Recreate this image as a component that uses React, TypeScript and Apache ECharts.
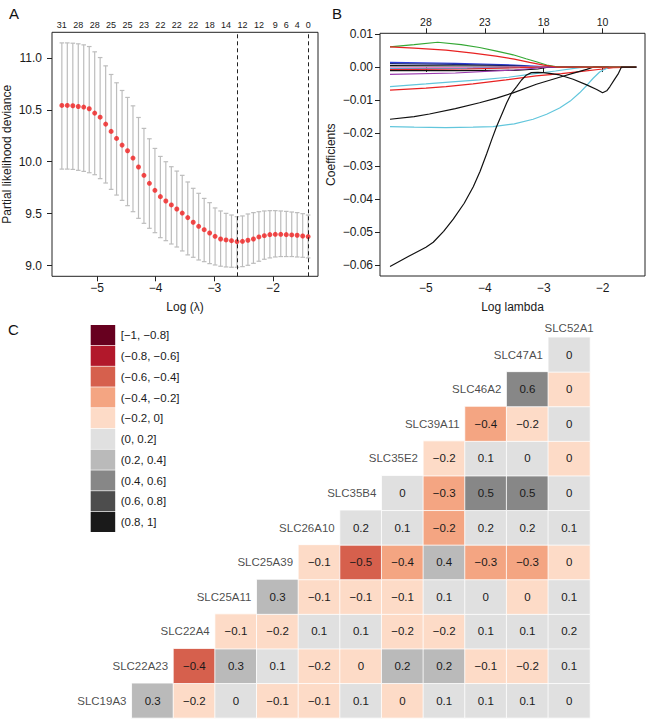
import React, { useEffect, useRef } from 'react';
import * as echarts from 'echarts';

const FONT = '"Liberation Sans", Arial, Helvetica, sans-serif';
const TXT = '#1a1a1a';
const minus = (s: string) => s.replace(/-/g, '\u2212');

// ---------------- Panel A: cross-validation curve ----------------
const logLambda = [
  -5.600, -5.507, -5.413, -5.320, -5.227, -5.133, -5.040, -4.947, -4.853, -4.760,
  -4.667, -4.573, -4.480, -4.387, -4.293, -4.200, -4.107, -4.013, -3.920, -3.827,
  -3.733, -3.640, -3.547, -3.453, -3.360, -3.267, -3.173, -3.080, -2.987, -2.893,
  -2.800, -2.707, -2.613, -2.520, -2.427, -2.333, -2.240, -2.147, -2.053, -1.960,
  -1.867, -1.773, -1.680, -1.587, -1.493, -1.400,
];
const cvMean = [
  10.542, 10.542, 10.539, 10.532, 10.526, 10.510, 10.468, 10.429, 10.362, 10.292,
  10.224, 10.160, 10.106, 10.035, 9.949, 9.869, 9.792, 9.725, 9.664, 9.622,
  9.584, 9.545, 9.506, 9.462, 9.417, 9.378, 9.346, 9.314, 9.282, 9.256,
  9.247, 9.240, 9.231, 9.234, 9.244, 9.256, 9.276, 9.288, 9.298, 9.301,
  9.301, 9.298, 9.295, 9.292, 9.285, 9.279,
];
const cvUpper = [
  11.144, 11.144, 11.141, 11.135, 11.125, 11.109, 11.058, 11.003, 10.923, 10.840,
  10.760, 10.686, 10.619, 10.538, 10.426, 10.321, 10.221, 10.128, 10.051, 10.000,
  9.952, 9.910, 9.869, 9.805, 9.744, 9.696, 9.647, 9.606, 9.555, 9.526,
  9.503, 9.487, 9.471, 9.478, 9.497, 9.510, 9.519, 9.526, 9.529, 9.529,
  9.526, 9.522, 9.516, 9.510, 9.500, 9.487,
];
const cvLower = [
  9.929, 9.929, 9.926, 9.917, 9.907, 9.894, 9.875, 9.837, 9.795, 9.734,
  9.679, 9.628, 9.577, 9.519, 9.455, 9.407, 9.359, 9.317, 9.269, 9.240,
  9.208, 9.179, 9.141, 9.103, 9.080, 9.054, 9.038, 9.019, 9.006, 8.994,
  8.987, 8.984, 8.984, 8.990, 9.003, 9.022, 9.042, 9.061, 9.074, 9.083,
  9.087, 9.087, 9.087, 9.083, 9.080, 9.074,
];
const dfTickX = [-5.600, -5.320, -5.040, -4.760, -4.480, -4.200, -3.920, -3.640, -3.360, -3.080, -2.800, -2.520, -2.240, -1.960, -1.773, -1.587, -1.400];
const dfTickLabels = ['31', '28', '28', '25', '25', '23', '22', '22', '22', '18', '14', '12', '12', '9', '6', '4', '0'];
const lambdaMin = -2.613;
const lambda1se = -1.4;
const aXTicks = [-5, -4, -3, -2];
const aYTicks = [9.0, 9.5, 10.0, 10.5, 11.0];

// ---------------- Panel B: coefficient paths ----------------
const bXTicks = [-5, -4, -3, -2];
const bTopLabels = ['28', '23', '18', '10'];
const bYTicks = [-0.06, -0.05, -0.04, -0.03, -0.02, -0.01, 0, 0.01];

const pathGreen = [[-5.61, 0.0061], [-5.2, 0.0068], [-4.8, 0.0075], [-4.4, 0.0068], [-4.09, 0.0059], [-3.8, 0.0048], [-3.52, 0.0037], [-3.3, 0.0025], [-3.125, 0.0016], [-2.95, 0.0006], [-2.8, 0.0001], [-2.7, 0], [-1.43, 0]];
const pathRedTop = [[-5.61, 0.0061], [-5.2, 0.0057], [-4.66, 0.0051], [-4.2, 0.0042], [-3.81, 0.0033], [-3.5, 0.0024], [-3.24, 0.0014], [-3.0, 0.0006], [-2.78, 0], [-1.43, 0]];
const pathBlue = [[-5.61, 0.0014], [-4.5, 0.0011], [-3.5, 0.0006], [-3.0, 0.0001], [-2.9, 0], [-1.43, 0]];
const pathNavy = [[-5.61, 0.0010], [-4.5, 0.0008], [-3.5, 0.0004], [-3.1, 0], [-1.43, 0]];
const pathBlack3 = [[-5.61, 0.0004], [-4.0, 0.0003], [-3.3, 0], [-1.43, 0]];
const pathGrey = [[-5.61, 0.0001], [-4.0, 0.0001], [-3.4, 0], [-1.43, 0]];
const pathPink = [[-5.61, -0.0003], [-4.2, -0.0002], [-3.4, 0], [-1.43, 0]];
const pathSky = [[-5.61, -0.0005], [-4.3, -0.0004], [-3.3, -0.0001], [-3.1, 0], [-1.43, 0]];
const pathRed3 = [[-5.61, -0.0008], [-4.3, -0.0006], [-3.4, -0.0002], [-3.1, 0], [-1.43, 0]];
const pathBlack4 = [[-5.61, -0.0011], [-4.5, -0.0011], [-3.5, -0.0010], [-3.1, -0.0006], [-2.9, 0], [-1.43, 0]];
const pathPurple = [[-5.61, -0.0022], [-4.5, -0.0018], [-3.5, -0.0009], [-3.1, -0.0003], [-2.9, 0], [-1.43, 0]];
const pathCyan1 = [[-5.61, -0.0059], [-5.0, -0.0051], [-4.5, -0.0044], [-4.09, -0.0039], [-3.6, -0.0031], [-3.24, -0.0022], [-2.8, -0.0012], [-2.39, -0.0002], [-2.2, 0], [-1.43, 0]];
const pathRed2 = [[-5.61, -0.0070], [-5.0, -0.0064], [-4.66, -0.0059], [-4.2, -0.0051], [-3.64, -0.0039], [-3.13, -0.0027], [-2.7, -0.0020], [-2.39, -0.0014], [-2.0, -0.0006], [-1.82, -0.0002], [-1.43, 0]];
const pathBlack2 = [[-5.61, -0.0158], [-5.2, -0.0150], [-4.94, -0.0142], [-4.5, -0.0126], [-4.09, -0.0108], [-3.8, -0.0094], [-3.52, -0.0078], [-3.125, -0.0052], [-2.73, -0.0031], [-2.45, -0.0016], [-2.27, -0.0007], [-2.15, 0], [-1.43, 0]];
const pathCyan2 = [[-5.61, -0.0180], [-5.2, -0.0182], [-4.66, -0.0183], [-4.2, -0.0182], [-3.86, -0.0180], [-3.5, -0.0172], [-3.18, -0.0158], [-2.95, -0.0143], [-2.73, -0.0124], [-2.55, -0.0103], [-2.39, -0.0078], [-2.25, -0.0052], [-2.16, -0.0034], [-2.05, -0.0015], [-1.99, -0.0009], [-1.88, 0], [-1.43, 0]];
const pathBlack1 = [[-5.61, -0.0603], [-5.3, -0.0573], [-5.0, -0.0545], [-4.876, -0.0530], [-4.7, -0.0497], [-4.536, -0.0460], [-4.35, -0.0412], [-4.196, -0.0362], [-4.08, -0.0315], [-3.97, -0.0263], [-3.88, -0.0218], [-3.8, -0.0180], [-3.7, -0.0138], [-3.63, -0.0109], [-3.55, -0.0080], [-3.46, -0.0059], [-3.38, -0.0040], [-3.3, -0.0025], [-3.21, -0.0017], [-3.1, -0.0016], [-3.01, -0.0017], [-2.87, -0.0020], [-2.73, -0.0024], [-2.5, -0.0037], [-2.27, -0.0054], [-2.1, -0.0068], [-2.0, -0.0078], [-1.93, -0.0072], [-1.875, -0.0059], [-1.8, -0.0038], [-1.73, -0.0019], [-1.68, 0], [-1.43, 0]];

const pathList = [
  { data: pathBlue, color: '#2B3BD8', tag: '' },
  { data: pathNavy, color: '#1C2A7A', tag: '' },
  { data: pathBlack3, color: '#111111', tag: '' },
  { data: pathGrey, color: '#9A9A9A', tag: '' },
  { data: pathPink, color: '#E060C0', tag: '' },
  { data: pathSky, color: '#58A8E0', tag: '' },
  { data: pathRed3, color: '#E82222', tag: '' },
  { data: pathBlack4, color: '#111111', tag: '20' },
  { data: pathPurple, color: '#9A3AAE', tag: '16' },
  { data: pathCyan1, color: '#62C6DC', tag: '8' },
  { data: pathRed2, color: '#E82222', tag: '20' },
  { data: pathBlack2, color: '#111111', tag: '19' },
  { data: pathCyan2, color: '#62C6DC', tag: '11' },
  { data: pathGreen, color: '#35A835', tag: '' },
  { data: pathRedTop, color: '#E82222', tag: '28' },
  { data: pathBlack1, color: '#111111', tag: '33' },
];

// ---------------- Panel C: correlation heatmap ----------------
const genes = ['SLC19A3', 'SLC22A23', 'SLC22A4', 'SLC25A11', 'SLC25A39', 'SLC26A10', 'SLC35B4', 'SLC35E2', 'SLC39A11', 'SLC46A2', 'SLC47A1', 'SLC52A1'];
const corrSLC19A3 = [0.3, -0.18, 0.02, -0.1, -0.1, 0.1, -0.02, 0.1, 0.1, 0.1, 0.02];
const corrSLC22A23 = [-0.42, 0.3, 0.1, -0.18, -0.02, 0.22, 0.22, -0.1, -0.18, 0.1];
const corrSLC22A4 = [-0.1, -0.18, 0.1, 0.1, -0.18, -0.18, 0.1, 0.1, 0.18];
const corrSLC25A11 = [0.3, -0.1, -0.1, -0.1, 0.1, 0.02, -0.02, 0.1];
const corrSLC25A39 = [-0.1, -0.5, -0.38, 0.38, -0.3, -0.3, -0.02];
const corrSLC26A10 = [0.18, 0.1, -0.22, 0.18, 0.18, 0.1];
const corrSLC35B4 = [0.02, -0.3, 0.5, 0.5, 0.02];
const corrSLC35E2 = [-0.18, 0.1, 0.02, -0.02];
const corrSLC39A11 = [-0.38, -0.18, 0.02];
const corrSLC46A2 = [0.58, -0.02];
const corrSLC47A1 = [0.02];
const corrRows = [corrSLC19A3, corrSLC22A23, corrSLC22A4, corrSLC25A11, corrSLC25A39, corrSLC26A10, corrSLC35B4, corrSLC35E2, corrSLC39A11, corrSLC46A2, corrSLC47A1];

const binLabels = ['[-1, -0.8]', '(-0.8, -0.6]', '(-0.6, -0.4]', '(-0.4, -0.2]', '(-0.2, 0]', '(0, 0.2]', '(0.2, 0.4]', '(0.4, 0.6]', '(0.6, 0.8]', '(0.8, 1]'];
const binLow = [-1, -0.8, -0.6, -0.4, -0.2, 0, 0.2, 0.4, 0.6, 0.8];
const binHigh = [-0.8, -0.6, -0.4, -0.2, 0, 0.2, 0.4, 0.6, 0.8, 1];
const binColors = ['#67001F', '#B2182B', '#D6604D', '#F4A582', '#FDDBC7', '#E0E0E0', '#BABABA', '#878787', '#4D4D4D', '#1A1A1A'];

const fmtCorr = (v: number) => {
  const r = Math.round(v * 10) / 10;
  if (Math.abs(r) < 1e-9) return '0';
  return minus(String(r));
};

const nearestLabel = (xs: number[], labels: string[], v: number) => {
  let best = 0;
  for (let i = 1; i < xs.length; i++) if (Math.abs(xs[i] - v) < Math.abs(xs[best] - v)) best = i;
  return labels[best];
};

export default function App() {
  const ref = useRef<HTMLDivElement>(null);
  useEffect(() => {
    if (!ref.current) return;
    const chart = echarts.init(ref.current, undefined, { renderer: 'svg' });

    const cellLeft = 90.15, cellW = 41.65, cellTop = 302.7, cellH = 34.6;

    const heatData: any[] = [];
    corrRows.forEach((row, r) => {
      row.forEach((v, k) => heatData.push([r + 1 + k, r, v]));
    });

    const geneLabelData = genes.map((g, r) => ({
      value: [r, r],
      name: g,
      label: r === genes.length - 1 ? { align: 'center', offset: [0, 8] } : undefined,
    }));

    const legendGraphics: any[] = [];
    binLabels.forEach((lab, i) => {
      const y0 = 325 + i * 20.77;
      legendGraphics.push({
        type: 'rect',
        shape: { x: 90.7, y: y0, width: 24.5, height: 20.1 },
        style: { fill: binColors[i] },
      });
      legendGraphics.push({
        type: 'text',
        x: 120.7,
        y: y0 + 10.3,
        style: { text: minus(lab), fontSize: 11.5, fontFamily: FONT, fill: TXT, verticalAlign: 'middle', align: 'left' },
      });
    });

    const panelLetter = (t: string, x: number, y: number) => ({
      type: 'text', x, y,
      style: { text: t, fontSize: 15, fontFamily: FONT, fill: '#111', verticalAlign: 'middle', align: 'left' },
    });

    const axisLabelStyle = { color: TXT, fontFamily: FONT, fontSize: 12 };
    const nameStyle = { fontSize: 12, color: TXT, fontFamily: FONT };

    const option: any = {
      animation: false,
      backgroundColor: '#fff',
      textStyle: { fontFamily: FONT, color: TXT },
      grid: [
        { left: 52, top: 32.3, width: 266, height: 244, show: true, borderColor: '#222', borderWidth: 1, backgroundColor: 'transparent', containLabel: false, outerBoundsMode: 'none' },
        { left: 380, top: 33.3, width: 265, height: 242.7, show: true, borderColor: '#222', borderWidth: 1, backgroundColor: 'transparent', containLabel: false, outerBoundsMode: 'none' },
        { left: cellLeft, top: cellTop, width: cellW * 12, height: cellH * 12, containLabel: false, outerBoundsMode: 'none' },
      ],
      xAxis: [
        {
          gridIndex: 0, type: 'value', min: -5.768, max: -1.232,
          axisLine: { show: false }, splitLine: { show: false },
          axisTick: { show: true, length: 5, customValues: aXTicks, lineStyle: { color: '#222' } },
          axisLabel: { ...axisLabelStyle, margin: 6, customValues: aXTicks, formatter: (v: number) => minus(String(v)) },
          name: 'Log (\u03bb)', nameLocation: 'middle', nameGap: 25, nameMoveOverlap: false,
          nameTextStyle: nameStyle,
        },
        {
          gridIndex: 0, type: 'value', position: 'top', min: -5.768, max: -1.232,
          axisLine: { show: false }, splitLine: { show: false }, axisTick: { show: false },
          axisLabel: { color: TXT, fontFamily: FONT, fontSize: 9, margin: 3, customValues: dfTickX, formatter: (v: number) => nearestLabel(dfTickX, dfTickLabels, v) },
        },
        {
          gridIndex: 1, type: 'value', min: -5.78, max: -1.28,
          axisLine: { show: false }, splitLine: { show: false },
          axisTick: { show: true, length: 5, customValues: bXTicks, lineStyle: { color: '#222' } },
          axisLabel: { ...axisLabelStyle, margin: 6, customValues: bXTicks, formatter: (v: number) => minus(String(v)) },
          name: 'Log lambda', nameLocation: 'middle', nameGap: 25, nameMoveOverlap: false,
          nameTextStyle: nameStyle,
        },
        {
          gridIndex: 1, type: 'value', position: 'top', min: -5.78, max: -1.28,
          axisLine: { show: false }, splitLine: { show: false },
          axisTick: { show: true, length: 5, customValues: bXTicks, lineStyle: { color: '#222' } },
          axisLabel: { color: TXT, fontFamily: FONT, fontSize: 10.5, margin: 6, customValues: bXTicks, formatter: (v: number) => nearestLabel(bXTicks, bTopLabels, v) },
        },
        {
          gridIndex: 2, type: 'category', data: genes.map((_, i) => String(i)), show: false,
        },
      ],
      yAxis: [
        {
          gridIndex: 0, type: 'value', min: 8.897, max: 11.246,
          axisLine: { show: false }, splitLine: { show: false },
          axisTick: { show: true, length: 5, customValues: aYTicks, lineStyle: { color: '#222' } },
          axisLabel: { ...axisLabelStyle, margin: 10, customValues: aYTicks, formatter: (v: number) => v.toFixed(1) },
          name: 'Partial likelihood deviance', nameLocation: 'middle', nameGap: 39, nameRotate: 90, nameMoveOverlap: false,
          nameTextStyle: nameStyle,
        },
        {
          gridIndex: 1, type: 'value', min: -0.0632, max: 0.0102,
          axisLine: { show: false }, splitLine: { show: false },
          axisTick: { show: true, length: 5, customValues: bYTicks, lineStyle: { color: '#222' } },
          axisLabel: {
            ...axisLabelStyle, margin: 7, customValues: bYTicks,
            formatter: (v: number) => (Math.abs(v) < 1e-9 ? '0.00' : minus(v.toFixed(2))),
          },
          name: 'Coefficients', nameLocation: 'middle', nameGap: 43, nameRotate: 90, nameMoveOverlap: false,
          nameTextStyle: nameStyle,
        },
        {
          gridIndex: 2, type: 'category', data: genes.map((_, i) => String(i)), show: false,
        },
      ],
      visualMap: [
        {
          type: 'piecewise', show: false, seriesIndex: 2, dimension: 2,
          pieces: binColors.map((c, i) => (i === 0
            ? { gte: binLow[i], lte: binHigh[i], color: c }
            : { gt: binLow[i], lte: binHigh[i], color: c })),
        },
      ],
      series: [
        {
          type: 'custom', xAxisIndex: 0, yAxisIndex: 0, z: 2,
          data: logLambda.map((x, i) => [x, cvLower[i], cvUpper[i]]),
          encode: { x: 0, y: [1, 2] },
          renderItem: (params: any, api: any) => {
            const x = api.value(0);
            const lo = api.coord([x, api.value(1)]);
            const hi = api.coord([x, api.value(2)]);
            const hw = 2.3;
            const style = { stroke: '#BDBDBD', lineWidth: 1.2 };
            return {
              type: 'group',
              children: [
                { type: 'line', shape: { x1: lo[0], y1: lo[1], x2: hi[0], y2: hi[1] }, style },
                { type: 'line', shape: { x1: lo[0] - hw, y1: lo[1], x2: lo[0] + hw, y2: lo[1] }, style },
                { type: 'line', shape: { x1: hi[0] - hw, y1: hi[1], x2: hi[0] + hw, y2: hi[1] }, style },
              ],
            };
          },
        },
        {
          type: 'scatter', xAxisIndex: 0, yAxisIndex: 0, z: 3,
          data: logLambda.map((x, i) => [x, cvMean[i]]),
          symbolSize: 5, itemStyle: { color: '#F01E1E' },
          markLine: {
            silent: true, symbol: ['none', 'none'], label: { show: false },
            lineStyle: { color: '#222', type: [4, 3], width: 1 },
            data: [{ xAxis: lambdaMin }, { xAxis: lambda1se }],
          },
        },
        {
          type: 'heatmap', xAxisIndex: 4, yAxisIndex: 2,
          data: heatData,
          itemStyle: { borderColor: '#ffffff', borderWidth: 0.8 },
          label: {
            show: true, fontSize: 11.5, fontFamily: FONT, color: TXT,
            formatter: (p: any) => fmtCorr(p.value[2]),
          },
        },
        {
          type: 'scatter', xAxisIndex: 4, yAxisIndex: 2,
          data: geneLabelData, symbolSize: 1,
          itemStyle: { color: 'rgba(0,0,0,0)' },
          label: {
            show: true, position: 'inside', align: 'right', offset: [15.5, 0],
            fontSize: 11.5, fontFamily: FONT, color: TXT,
            formatter: (p: any) => p.name,
          },
        },
        ...pathList.map((p) => ({
          type: 'line', xAxisIndex: 2, yAxisIndex: 1,
          showSymbol: false, symbol: 'none', smooth: false,
          lineStyle: { color: p.color, width: 1.2 },
          data: p.data.map((pt, i) => (i === 0 && p.tag
            ? { value: pt, label: { show: true, position: 'left', distance: 1, fontSize: 4, color: '#555', formatter: p.tag } }
            : { value: pt })),
        })),
      ],
      graphic: [
        panelLetter('A', 9, 13.5),
        panelLetter('B', 332, 13.5),
        panelLetter('C', 8, 329.5),
        ...legendGraphics,
      ],
    };

    chart.setOption(option);
    return () => chart.dispose();
  }, []);

  return (
    <div
      ref={ref}
      style={{ position: 'fixed', left: 0, top: 0, width: 652, height: 719, background: '#fff' }}
    />
  );
}
